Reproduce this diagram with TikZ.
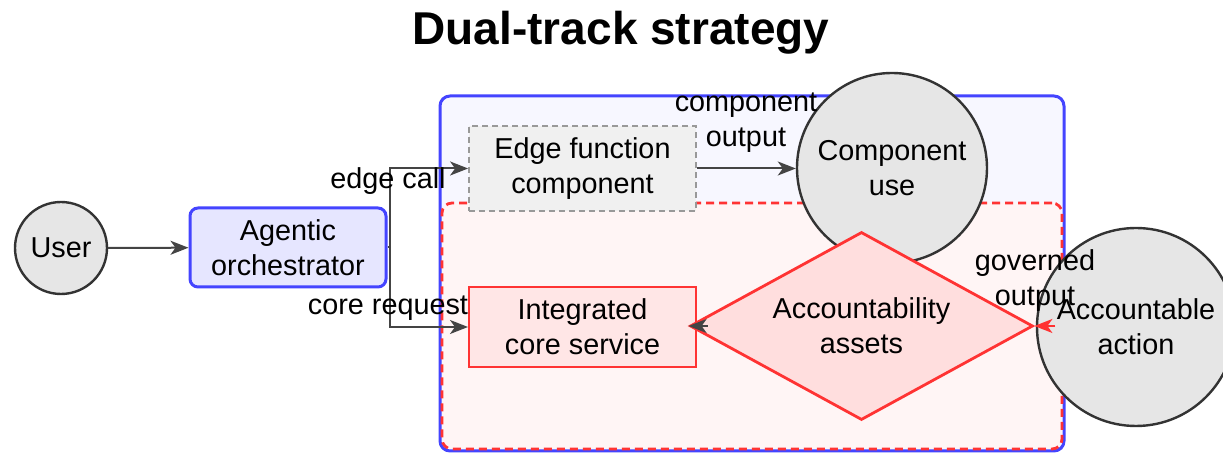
\documentclass[tikz,border=0pt]{standalone}
\usepackage{fontspec}
\setmainfont{Liberation Sans}
\usetikzlibrary{shapes.geometric,arrows.meta}
\definecolor{cGrayFill}{HTML}{E6E6E6}
\definecolor{cGrayLine}{HTML}{333333}
\definecolor{cArrow}{HTML}{444444}
\definecolor{cOrchFill}{HTML}{E6E6FF}
\definecolor{cBlue}{HTML}{4444FF}
\definecolor{cBlueFill}{HTML}{F7F7FF}
\definecolor{cRed}{HTML}{FF3333}
\definecolor{cRedFill}{HTML}{FFF5F5}
\definecolor{cEdgeFill}{HTML}{F0F0F0}
\definecolor{cEdgeLine}{HTML}{999999}
\definecolor{cIntFill}{HTML}{FFE6E6}
\definecolor{cDiaFill}{HTML}{FFDEDE}
\tikzset{
  base/.style={font=\fontsize{14.4}{17.5}\selectfont, align=center, inner sep=0pt},
  actor/.style={base, circle, draw=cGrayLine, fill=cGrayFill, line width=1.2pt},
  orchbox/.style={base, rectangle, rounded corners=4pt, draw=cBlue, fill=cOrchFill, line width=1.5pt},
  container/.style={rectangle, rounded corners=5pt, draw=cBlue, fill=cBlueFill, line width=1.5pt, inner sep=0pt},
  redzone/.style={rectangle, rounded corners=5pt, draw=cRed, fill=cRedFill, line width=1.4pt, dash pattern=on 4pt off 2.5pt, inner sep=0pt},
  edgebox/.style={base, rectangle, draw=cEdgeLine, fill=cEdgeFill, line width=0.9pt, dash pattern=on 3pt off 2pt},
  intbox/.style={base, rectangle, draw=cRed, fill=cIntFill, line width=1pt},
  assetdia/.style={base, diamond, aspect=1.8, draw=cRed, fill=cDiaFill, line width=1.4pt},
  arr/.style={draw=cArrow, line width=1pt, -{Stealth[length=9pt,width=7pt,inset=2.5pt]}},
  redarr/.style={draw=cRed, line width=1pt, -{Stealth[length=9pt,width=7pt,inset=2.5pt]}},
  lbl/.style={base}
}
\begin{document}
\begin{tikzpicture}[x=0.5pt,y=-0.5pt]
\useasboundingbox (0,0) rectangle (1223,453);
\node[font=\fontsize{23}{26}\selectfont\bfseries, inner sep=0pt] (title) at (621,33) {Dual-track strategy};
% containers
\node[container, minimum width=312pt, minimum height=177.5pt] (blue) at (752,273.5) {};
\node[redzone, minimum width=310pt, minimum height=123pt] (red) at (752,326) {};
% nodes
\node[actor, minimum size=46pt] (user) at (61,248) {User};
\node[orchbox, minimum width=98pt, minimum height=39.5pt] (orch) at (288,247.5) {Agentic\\orchestrator};
\node[edgebox, minimum width=113.5pt, minimum height=42.5pt] (edge) at (582.5,168.5) {Edge function\\component};
\node[intbox, minimum width=113.5pt, minimum height=40pt] (integ) at (582.5,327) {Integrated\\core service};
\node[actor, minimum size=95pt] (comp) at (892,168) {Component\\use};
\node[assetdia, minimum width=171.5pt, minimum height=94pt] (dia) at (861.5,326) {Accountability\\assets};
\node[actor, minimum size=99pt] (acc) at (1136,327) {Accountable\\action};
% connectors
\draw[arr] (user) -- (orch);
\draw[arr] (orch.east) -- ++(2,0) |- (edge.west);
\draw[arr] (orch.east) -- ++(2,0) |- (integ.west);
\draw[arr] (edge.east) -- (edge.east -| comp.west);
\draw[arr] ([xshift=9.5pt]dia.west) -- (dia.west);
\draw[redarr] ([xshift=10.5pt]dia.east) -- (dia.east);
% labels
\node[lbl] (lblEdge) at (388,181) {edge call};
\node[lbl] (lblCore) at (388,308) {core request};
\node[lbl] (lblComp) at (746,123) {component\\output};
\node[lbl] (lblGov) at (1035,281) {governed\\output};
\end{tikzpicture}
\end{document}
